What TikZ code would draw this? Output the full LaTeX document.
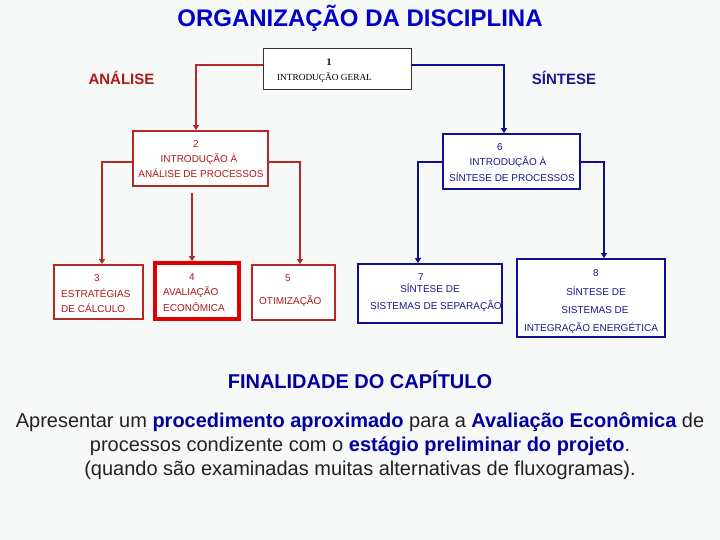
\documentclass[tikz,border=0pt]{standalone}
\usepackage{fontspec}
\setmainfont{Liberation Sans}
\newfontfamily\serifbox{Liberation Serif}
\usetikzlibrary{arrows.meta}
\definecolor{bg}{HTML}{F7F8F8}
\definecolor{redln}{HTML}{B42828}
\definecolor{redtxt}{HTML}{B01818}
\definecolor{redbright}{HTML}{E00000}
\definecolor{blueln}{HTML}{101090}
\definecolor{bluetxt}{HTML}{181890}
\definecolor{titleblue}{HTML}{0000CC}
\definecolor{hiblue}{HTML}{0000A0}
\definecolor{bodytxt}{HTML}{222222}
\tikzset{
  boxr/.style={draw=redln, line width=1.8pt, fill=white, inner sep=0pt},
  boxrr/.style={draw=redbright, line width=3.6pt, fill=white, inner sep=0pt},
  boxb/.style={draw=blueln, line width=1.8pt, fill=white, inner sep=0pt},
  boxk/.style={draw=black!80, line width=0.9pt, fill=white, inner sep=0pt},
  rl/.style={draw=redln, line width=1.8pt, -{Triangle[length=5pt,width=6pt]}},
  bl/.style={draw=blueln, line width=1.8pt, -{Triangle[length=5pt,width=6pt]}},
  rt/.style={text=redtxt, font=\fontsize{10}{12}\selectfont, inner sep=0pt, anchor=base},
  bt/.style={text=bluetxt, font=\fontsize{10}{12}\selectfont, inner sep=0pt, anchor=base},
  rtl/.style={rt, anchor=base west},
  btl/.style={bt, anchor=base west},
  para/.style={inner sep=0pt, anchor=base, text=bodytxt, font=\fontsize{20}{24}\selectfont},
}
\begin{document}
\begin{tikzpicture}[x=1pt,y=-1pt]
\fill[bg] (0,0) rectangle (720,540);
\useasboundingbox (0,0) rectangle (720,540);

% title
\node[inner sep=0pt, anchor=base, text=titleblue, font=\bfseries\fontsize{24}{28}\selectfont] (title) at (360,26.5) {ORGANIZAÇÃO DA DISCIPLINA};
\node[inner sep=0pt, anchor=base, text=redtxt, font=\bfseries\fontsize{15}{18}\selectfont] (anal) at (121.5,84.5) {ANÁLISE};
\node[inner sep=0pt, anchor=base, text=bluetxt, font=\bfseries\fontsize{15}{18}\selectfont] (sint) at (564,84.5) {SÍNTESE};

% boxes
\node[boxk, minimum width=148pt, minimum height=41pt] (b1) at (337,68.5) {};
\node[boxr, minimum width=135pt, minimum height=55pt] (b2) at (200.5,158.5) {};
\node[boxb, minimum width=137pt, minimum height=55pt] (b6) at (511.5,161.5) {};
\node[boxr, minimum width=89pt, minimum height=54pt] (b3) at (98.5,292) {};
\node[boxrr, minimum width=84pt, minimum height=56pt] (b4) at (197,291) {};
\node[boxr, minimum width=83pt, minimum height=55pt] (b5) at (293.5,292.5) {};
\node[boxb, minimum width=144pt, minimum height=59pt] (b7) at (430,293.5) {};
\node[boxb, minimum width=148pt, minimum height=78pt] (b8) at (591,298) {};

% box texts
\node[inner sep=0pt, anchor=base, font=\serifbox\bfseries\fontsize{10}{12}\selectfont] (t1a) at (329,65.5) {1};
\node[inner sep=0pt, anchor=base, font=\serifbox\fontsize{9.3}{11}\selectfont] (t1b) at (324.5,80.5) {INTRODUÇÃO GERAL};

\node[rt] (t2a) at (196,148) {2};
\node[rt] (t2b) at (199,163) {INTRODUÇÃO À};
\node[rt] (t2c) at (201,178) {ANÁLISE DE PROCESSOS};

\node[bt] (t6a) at (500,151) {6};
\node[bt] (t6b) at (508,166) {INTRODUÇÃO À};
\node[bt] (t6c) at (512,182) {SÍNTESE DE PROCESSOS};

\node[rt] (t3a) at (97,281) {3};
\node[rtl] (t3b) at (61,297) {ESTRATÉGIAS};
\node[rtl] (t3c) at (61,312) {DE CÁLCULO};

\node[rt] (t4a) at (192,280) {4};
\node[rtl] (t4b) at (163,295) {AVALIAÇÃO};
\node[rtl] (t4c) at (163,311) {ECONÔMICA};

\node[rt] (t5a) at (288,281) {5};
\node[rtl] (t5b) at (259,304) {OTIMIZAÇÃO};

\node[bt] (t7a) at (421,280) {7};
\node[bt] (t7b) at (430,292) {SÍNTESE DE};
\node[btl] (t7c) at (370,309) {SISTEMAS DE SEPARAÇÃO};

\node[bt] (t8a) at (596,276) {8};
\node[bt] (t8b) at (596,295) {SÍNTESE DE};
\node[bt] (t8c) at (595,313) {SISTEMAS DE};
\node[bt] (t8d) at (591,331) {INTEGRAÇÃO ENERGÉTICA};

% connectors
\draw[rl] ([yshift=3.5pt]b1.west) -| ([xshift=-4.5pt]b2.north);
\draw[bl] ([yshift=3.5pt]b1.east) -| ([xshift=-7.5pt]b6.north);
\draw[rl] ([yshift=-3.5pt]b2.west) -| ([xshift=3.5pt]b3.north);
\draw[rl] ([yshift=-3.5pt]b2.east) -| ([xshift=6.5pt]b5.north);
\draw[rl] ([xshift=-8.5pt,yshift=-6pt]b2.south) -- ([xshift=-5pt]b4.north);
\draw[bl] ([yshift=-0.5pt]b6.west) -| ([xshift=-12pt]b7.north);
\draw[bl] ([yshift=-0.5pt]b6.east) -| ([xshift=13pt]b8.north);

% bottom text
\node[inner sep=0pt, anchor=base, text=hiblue, font=\bfseries\fontsize{20}{24}\selectfont] (fin) at (360,388.5) {FINALIDADE DO CAPÍTULO};
\node[para] (p1) at (360,427.5)
  {Apresentar um \textcolor{hiblue}{\bfseries procedimento aproximado} para a \textcolor{hiblue}{\bfseries Avaliação Econômica} de};
\node[para] (p2) at (360,451.5)
  {processos condizente com o \textcolor{hiblue}{\bfseries estágio preliminar do projeto}.};
\node[para] (p3) at (360,475.5)
  {(quando são examinadas muitas alternativas de fluxogramas).};
\end{tikzpicture}
\end{document}
